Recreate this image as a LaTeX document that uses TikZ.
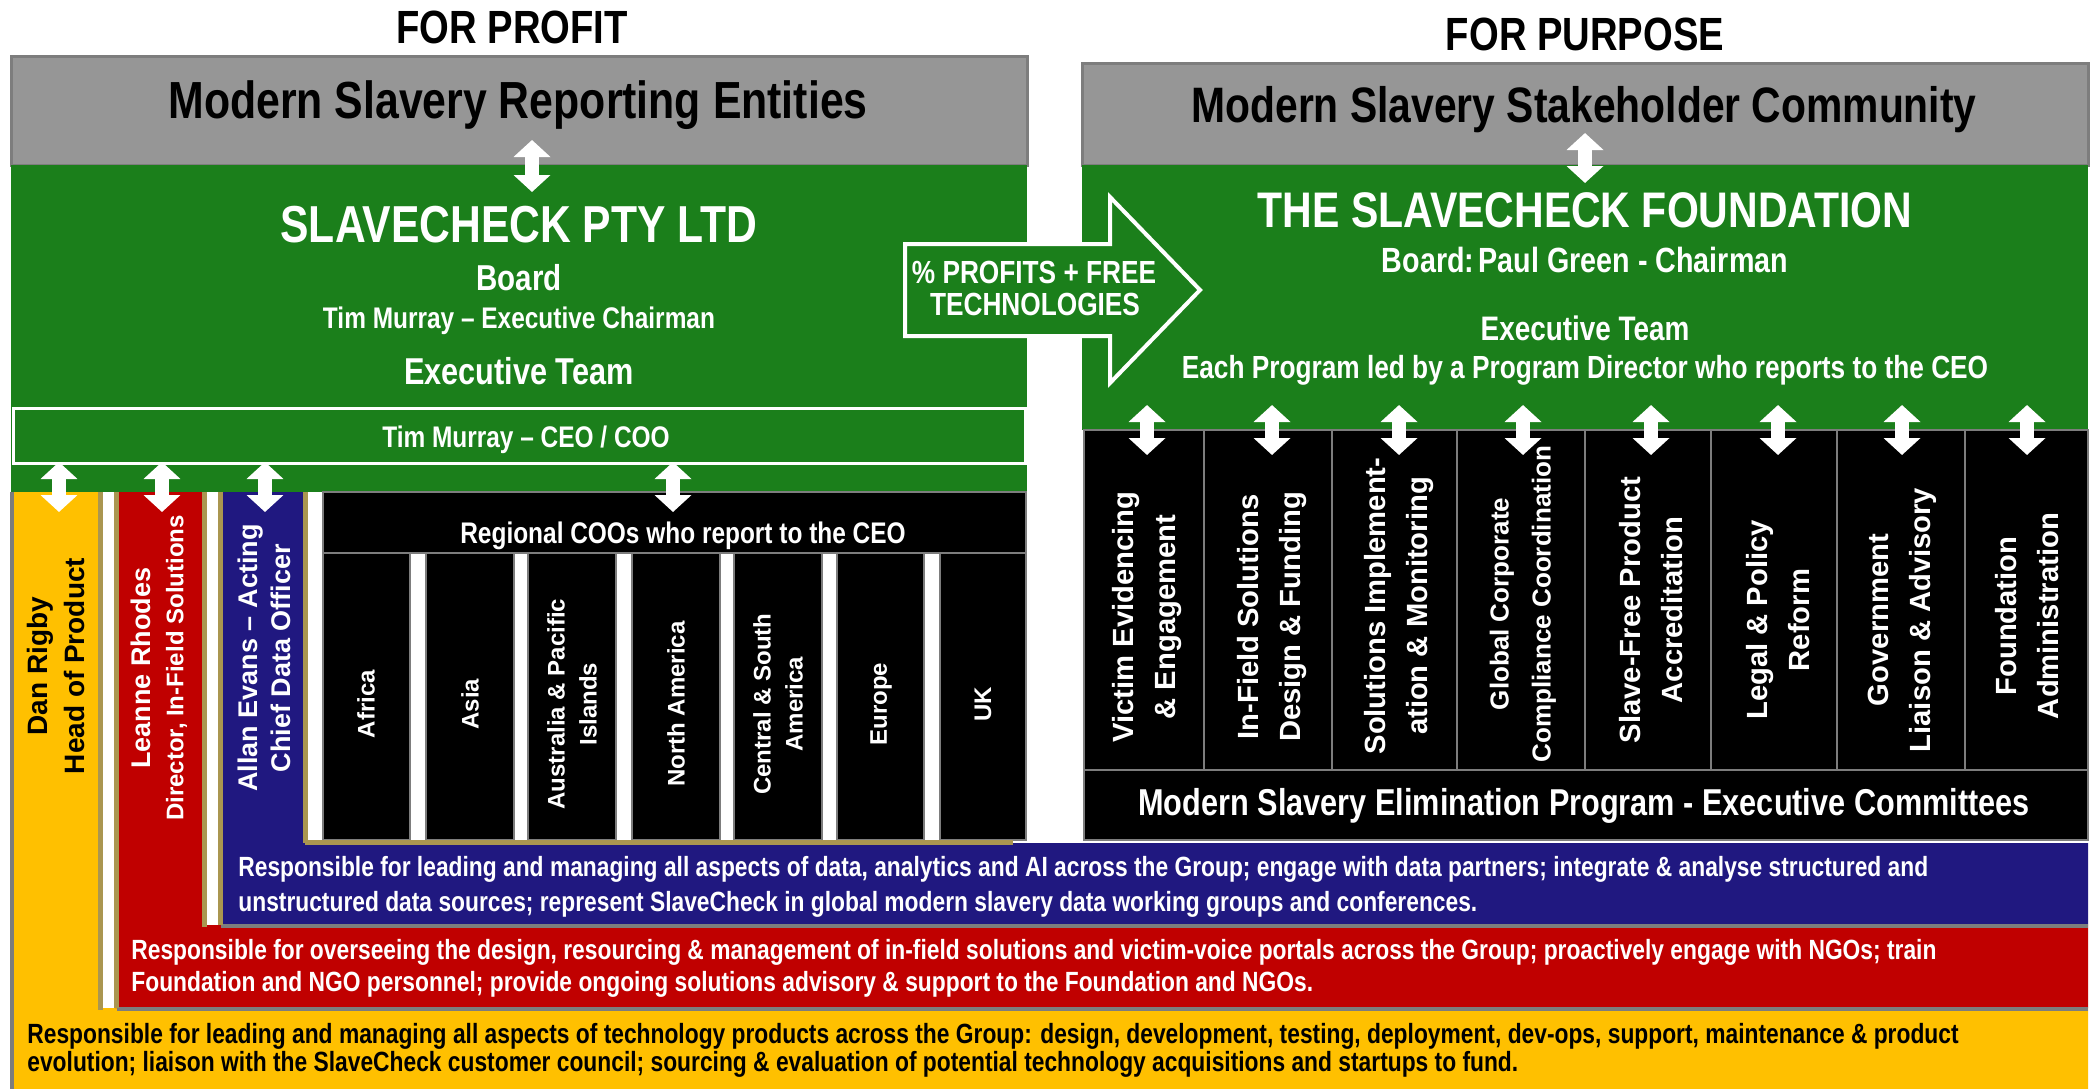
\documentclass[tikz,border=0pt]{standalone}
\usepackage{fontspec}
\setmainfont{Liberation Sans}[FakeStretch=0.82]
\newfontfamily\widefont{Liberation Sans}
\usetikzlibrary{arrows.meta,fit}
\definecolor{gbox}{RGB}{150,150,150}
\definecolor{gedge}{RGB}{125,125,125}
\definecolor{tan}{RGB}{170,150,80}
\definecolor{sgreen}{RGB}{27,127,27}
\definecolor{syellow}{RGB}{255,192,0}
\definecolor{sred}{RGB}{192,0,0}
\definecolor{sblue}{RGB}{32,24,128}
\begin{document}
\begin{tikzpicture}[x=0.5pt,y=-0.5pt,
  rbox/.style={inner sep=0pt, outer sep=0pt, draw=gedge, line width=1.2pt},
  hd/.style={anchor=base, inner sep=0pt, font=\bfseries},
  para/.style={anchor=base west, inner sep=0pt, font=\bfseries\fontsize{13.9}{16}\selectfont},
  dbl/.style={draw=white, line width=7pt, {Triangle[width=18pt,length=8.5pt]}-{Triangle[width=18pt,length=8.5pt]}},
  vt/.style={rotate=90, align=center, text=white, inner sep=0pt},
  vfont/.style 2 args={font=\widefont\bfseries\fontsize{#1}{#2}\selectfont},
  tanedge/.style={draw=tan, line width=2.5pt},
  grayedge/.style={draw=gedge, line width=1.8pt},
]
\useasboundingbox[fill=white] (0,0) rectangle (2092,1088);

% ---------- titles
\node[hd, font=\bfseries\fontsize{23.3}{26}\selectfont] (forprofit) at (512,43) {FOR PROFIT};
\node[hd, font=\bfseries\fontsize{23.3}{26}\selectfont] (forpurpose) at (1585,50) {FOR PURPOSE};

% ---------- left side
\node[rbox, line width=1.5pt, fill=gbox, fit={(11,56)(1027,165)}] (grayL) {};
\node[hd, font=\bfseries\fontsize{26.1}{28}\selectfont] (msre) at (518,118) {Modern Slavery Reporting Entities};
\node[rbox, draw=none, fill=sgreen, fit={(11,165)(1027,492)}] (greenL) {};
\node[hd, text=white, font=\bfseries\fontsize{26}{28}\selectfont] (pty) at (519,242) {SLAVECHECK PTY LTD};
\node[hd, text=white, font=\bfseries\fontsize{18}{20}\selectfont] (boardL) at (519,290) {Board};
\node[hd, text=white, font=\bfseries\fontsize{14.9}{17}\selectfont] (chairL) at (519,328) {Tim Murray – Executive Chairman};
\node[hd, text=white, font=\bfseries\fontsize{18.7}{20}\selectfont] (execL) at (519,384) {Executive Team};
\node[rbox, draw=white, line width=1.5pt, fill=sgreen, fit={(13,408)(1025,463)}] (ceo) {};
\node[hd, text=white, font=\bfseries\fontsize{14.9}{17}\selectfont] (ceotxt) at (526,447) {Tim Murray – CEO / COO};

% L-shaped bands
\fill[syellow] (12,492) -- (100,492) -- (100,1008) -- (2088,1008) -- (2088,1090) -- (12,1090) -- cycle;
\fill[sred] (115,492) -- (204,492) -- (204,925) -- (2088,925) -- (2088,1008) -- (115,1008) -- cycle;
\fill[sblue] (219,492) -- (305,492) -- (305,843) -- (2088,843) -- (2088,925) -- (219,925) -- cycle;
\draw[grayedge] (12,492) -- (12,1090);
\draw[grayedge] (117,1009) -- (2088,1009);
\draw[grayedge] (221,926) -- (2088,926);
\draw[tanedge] (100,492) -- (100,1010);
\draw[tanedge] (116,492) -- (116,1008);
\draw[tanedge] (204,492) -- (204,927);
\draw[tanedge] (220,492) -- (220,925);
\draw[tanedge] (305,492) -- (305,843);

\node[vt, text=black, vfont={14}{18.5}] (dan) at (56,666) {Dan Rigby\\Head of Product};
\node[vt, vfont={13.5}{16.5}] (leanne) at (159,668) {Leanne Rhodes\\\fontsize{12}{16.5}\selectfont Director, In-Field Solutions};
\node[vt, vfont={13.5}{16.5}] (allan) at (264,658) {Allan Evans – Acting\\Chief Data Officer};

% regional box
\node[rbox, fill=black, fit={(323,492)(1026,553)}] (regional) {};
\node[hd, text=white, font=\bfseries\fontsize{14.9}{17}\selectfont] (regtxt) at (683,543) {Regional COOs who report to the CEO};
\node[rbox, fill=black, fit={(323,553)(410,840)}] (afr) {};
\node[rbox, fill=black, fit={(426,553)(514,840)}] (asia) {};
\node[rbox, fill=black, fit={(528,553)(616,840)}] (aus) {};
\node[rbox, fill=black, fit={(632,553)(720,840)}] (nam) {};
\node[rbox, fill=black, fit={(734,553)(822,840)}] (csa) {};
\node[rbox, fill=black, fit={(837,553)(924,840)}] (eur) {};
\node[rbox, fill=black, fit={(940,553)(1026,840)}] (uk) {};
\draw[tanedge] (305,842) -- (1013,842);
\node[vt, vfont={12}{16}] (afrt) at (366,704) {Africa};
\node[vt, vfont={12}{16}] (asiat) at (470,704) {Asia};
\node[vt, vfont={12}{16}] (aust) at (572,704) {Australia \& Pacific\\Islands};
\node[vt, vfont={12}{16}] (namt) at (676,704) {North America};
\node[vt, vfont={12}{16}] (csat) at (778,704) {Central \& South\\America};
\node[vt, vfont={12}{16}] (eurt) at (881,704) {Europe};
\node[vt, vfont={12}{16}] (ukt) at (983,704) {UK};

% ---------- right side
\node[rbox, line width=1.5pt, fill=gbox, fit={(1082,63)(2088,165)}] (grayR) {};
\node[hd, font=\bfseries\fontsize{24.9}{28}\selectfont] (mssc) at (1584,122) {Modern Slavery Stakeholder Community};
\node[rbox, draw=none, fill=sgreen, fit={(1082,165)(2088,430)}] (greenR) {};
\node[hd, text=white, font=\bfseries\fontsize{25}{28}\selectfont] (found) at (1585,227) {THE SLAVECHECK FOUNDATION};
\node[hd, text=white, font=\bfseries\fontsize{17.5}{20}\selectfont] (boardR) at (1585,272) {Board:\hspace{0.12em}Paul Green - Chairman};
\node[hd, text=white, font=\bfseries\fontsize{17}{20}\selectfont] (execR) at (1585,340) {Executive Team};
\node[hd, text=white, font=\bfseries\fontsize{16}{19}\selectfont] (eachR) at (1585,378) {Each Program led by a Program Director who reports to the CEO};

\node[rbox, fill=black, fit={(1084,430)(1204,770)}] (p1) {};
\node[rbox, fill=black, fit={(1204,430)(1332,770)}] (p2) {};
\node[rbox, fill=black, fit={(1332,430)(1457,770)}] (p3) {};
\node[rbox, fill=black, fit={(1457,430)(1585,770)}] (p4) {};
\node[rbox, fill=black, fit={(1585,430)(1711,770)}] (p5) {};
\node[rbox, fill=black, fit={(1711,430)(1837,770)}] (p6) {};
\node[rbox, fill=black, fit={(1837,430)(1965,770)}] (p7) {};
\node[rbox, fill=black, fit={(1965,430)(2088,770)}] (p8) {};
\node[rbox, fill=black, fit={(1084,770)(2088,840)}] (committees) {};
\node[hd, text=white, font=\bfseries\fontsize{18.7}{21}\selectfont] (comtxt) at (1584,815) {Modern Slavery Elimination Program - Executive Committees};

\node[vt, vfont={14.6}{21}] (p1t) at (1147,617) {Victim Evidencing\\\& Engagement};
\node[vt, vfont={14.6}{21}] (p2t) at (1272,617) {In-Field Solutions\\Design \& Funding};
\node[vt, vfont={14.6}{21}] (p3t) at (1399,606) {Solutions Implement-\\ation \& Monitoring};
\node[vt, vfont={13}{21}] (p4t) at (1523,604) {Global Corporate\\Compliance Coordination};
\node[vt, vfont={14.6}{21}] (p5t) at (1651,610) {Slave-Free Product\\Accreditation};
\node[vt, vfont={14.6}{21}] (p6t) at (1778,620) {Legal \& Policy\\Reform};
\node[vt, vfont={14.6}{21}] (p7t) at (1902,620) {Government\\Liaison \& Advisory};
\node[vt, vfont={14.6}{21}] (p8t) at (2027,616) {Foundation\\Administration};

% ---------- big arrow
\filldraw[fill=sgreen, draw=white, line width=2pt] (905,244) -- (1110,244) -- (1110,197) -- (1200,290) -- (1110,383) -- (1110,336) -- (905,336) -- cycle;
\node[hd, text=white, font=\bfseries\fontsize{16}{19}\selectfont] (prof1) at (1034,283) {\% PROFITS + FREE};
\node[hd, text=white, font=\bfseries\fontsize{16}{19}\selectfont] (prof2) at (1035,315) {TECHNOLOGIES};

% ---------- responsibility texts
\node[para, text=white] (b1) at (238,876) {Responsible for leading and managing all aspects of data, analytics and AI across the Group; engage with data partners; integrate \& analyse structured and};
\node[para, text=white] (b2) at (238,911) {unstructured data sources; represent SlaveCheck in global modern slavery data working groups and conferences.};
\node[para, text=white] (r1) at (131,959) {Responsible for overseeing the design, resourcing \& management of in-field solutions and victim-voice portals across the Group; proactively engage with NGOs; train};
\node[para, text=white] (r2) at (131,991) {Foundation and NGO personnel; provide ongoing solutions advisory \& support to the Foundation and NGOs.};
\node[para] (y1) at (27,1043) {Responsible for leading and managing all aspects of technology products across the Group: design, development, testing, deployment, dev-ops, support, maintenance \& product};
\node[para] (y2) at (27,1071) {evolution; liaison with the SlaveCheck customer council; sourcing \& evaluation of potential technology acquisitions and startups to fund.};

% ---------- double arrows
\coordinate (aL1) at (532,140); \coordinate (aL2) at (532,192);
\draw[dbl] (aL1) -- (aL2);
\coordinate (aR1) at (1585,133); \coordinate (aR2) at (1585,183);
\draw[dbl] (aR1) -- (aR2);
\foreach \x/\n in {59/dy,162/lr,265/ae,673/rc}{
  \coordinate (\n s) at (\x,462); \coordinate (\n e) at (\x,512);
  \draw[dbl] (\n s) -- (\n e);
}
\foreach \x/\n in {1147/q1,1272/q2,1399/q3,1523/q4,1651/q5,1778/q6,1902/q7,2027/q8}{
  \coordinate (\n s) at (\x,405); \coordinate (\n e) at (\x,455);
  \draw[dbl] (\n s) -- (\n e);
}
\end{tikzpicture}
\end{document}
